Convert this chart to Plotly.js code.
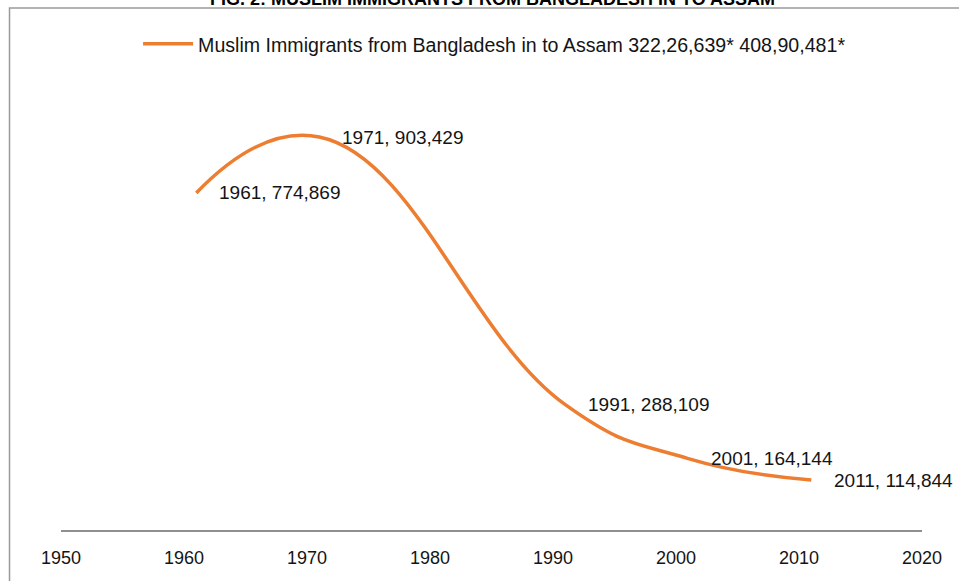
<!DOCTYPE html>
<html>
<head>
<meta charset="utf-8">
<script src="https://cdn.plot.ly/plotly-3.0.1.min.js"></script>
<style>
  html, body { margin: 0; padding: 0; background: #fff; }
  #chart { width: 959px; height: 581px; }
</style>
</head>
<body>
<div id="chart"></div>
<script>
// Census years and estimated Muslim immigrants from Bangladesh into Assam
const years = [1961, 1971, 1991, 2001, 2011];
const immigrants = [774869, 903429, 288109, 164144, 114844];
const seriesName = 'Muslim Immigrants from Bangladesh in to Assam 322,26,639* 408,90,481*';
const chartTitle = 'FIG. 2: MUSLIM IMMIGRANTS FROM BANGLADESH IN TO ASSAM';
const xTicks = [1950, 1960, 1970, 1980, 1990, 2000, 2010, 2020];

const FONT = 'Liberation Sans, Arial, sans-serif';
const ORANGE = '#ED7D31';

const fmt = v => v.toLocaleString('en-US');

const trace = {
  type: 'scatter',
  mode: 'lines',
  x: years,
  y: immigrants,
  name: seriesName,
  line: { color: ORANGE, width: 3.5, shape: 'spline', smoothing: 1.3 },
  hoverinfo: 'x+y'
};

// "year, value" labels placed to the right of each point
const labels = years.map((yr, i) => ({
  x: yr,
  y: immigrants[i],
  xref: 'x',
  yref: 'y',
  text: yr + ', ' + fmt(immigrants[i]),
  showarrow: false,
  xanchor: 'left',
  yanchor: 'middle',
  xshift: 21,
  font: { family: FONT, size: 19, color: '#141414' }
}));

const titleNote = {
  xref: 'paper', yref: 'paper',
  x: 0.5015, y: 1.2207,
  xanchor: 'center', yanchor: 'middle',
  text: '<b>' + chartTitle + '</b>',
  showarrow: false,
  font: { family: FONT, size: 18, color: '#000' }
};

const layout = {
  width: 959,
  height: 581,
  margin: { l: 61, r: 37, t: 95, b: 51 },
  paper_bgcolor: '#fff',
  plot_bgcolor: 'rgba(0,0,0,0)',
  font: { family: FONT, color: '#141414' },
  showlegend: true,
  legend: {
    x: 0.0895, y: 1.117,
    xanchor: 'left', yanchor: 'middle',
    orientation: 'h',
    itemwidth: 50,
    bgcolor: 'rgba(0,0,0,0)',
    font: { family: FONT, size: 19.6, color: '#141414' }
  },
  xaxis: {
    range: [1950, 2020],
    tickmode: 'array',
    tickvals: xTicks,
    ticktext: xTicks.map(String),
    showgrid: false,
    zeroline: false,
    showline: true,
    linecolor: '#8f8f8f',
    linewidth: 2,
    ticks: '',
    ticklabelstandoff: 10,
    tickfont: { family: FONT, size: 18, color: '#141414' },
    fixedrange: true
  },
  yaxis: {
    range: [0, 1000000],
    visible: false,
    showgrid: false,
    zeroline: false,
    fixedrange: true
  },
  shapes: [{
    // chart area border
    type: 'rect',
    xref: 'paper', yref: 'paper',
    x0: -0.0598, x1: 1.3,
    y0: -0.3, y1: 1.2,
    line: { color: '#9a9a9a', width: 1.5 },
    fillcolor: 'rgba(0,0,0,0)',
    layer: 'above'
  }],
  annotations: [titleNote].concat(labels)
};

Plotly.newPlot('chart', [trace], layout, { displayModeBar: false, staticPlot: true });
</script>
</body>
</html>
